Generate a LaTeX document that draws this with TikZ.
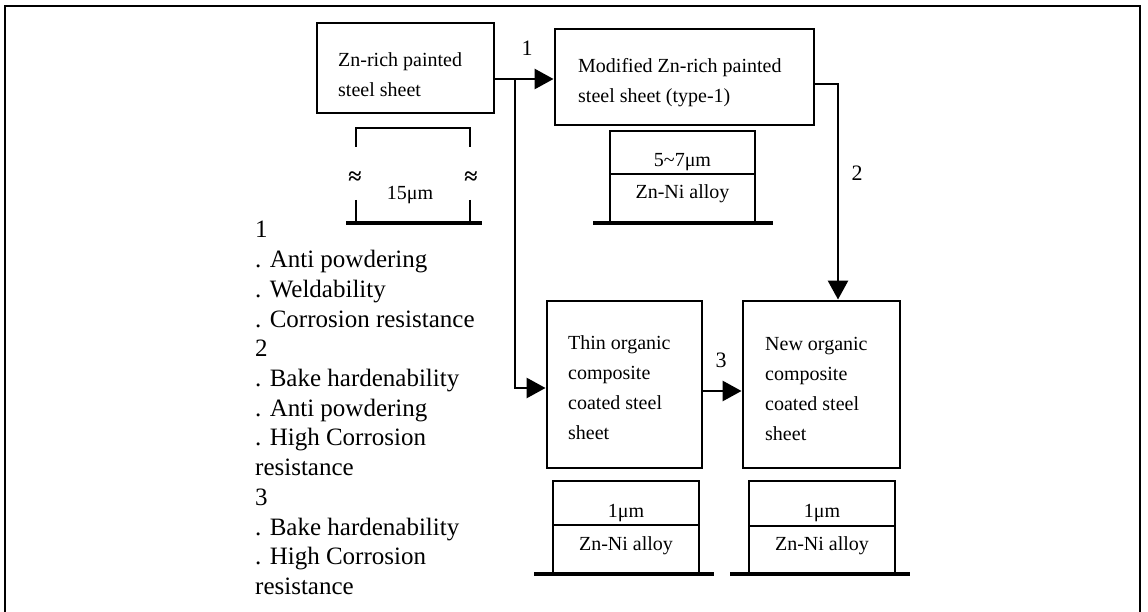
\documentclass[tikz,border=0pt]{standalone}
\usepackage{fontspec}
\setmainfont{Liberation Serif}
\usetikzlibrary{arrows.meta}
\begin{document}
\begin{tikzpicture}[x=1pt,y=-1pt,
  box/.style={draw, line width=2.9pt, inner sep=0pt},
  bt/.style={anchor=base west, inner sep=0pt, font=\fontsize{20}{24}\selectfont},
  lt/.style={anchor=base, inner sep=0pt, font=\fontsize{20}{24}\selectfont},
  lst/.style={anchor=base west, inner sep=0pt, font=\fontsize{25}{30}\selectfont},
  num/.style={anchor=base, inner sep=0pt, font=\fontsize{22}{24}\selectfont},
  apx/.style={inner sep=0pt, font=\fontsize{24}{26}\selectfont\bfseries},
  conn/.style={line width=2.8pt},
  tip/.style={-{Triangle[length=19pt,width=20pt]}},
  layer/.style={line width=2.6pt},
  thinl/.style={line width=2pt},
  ground/.style={line width=3.4pt},
  frame/.style={line width=2pt}
]
\useasboundingbox (0,0) rectangle (1148,612);
% outer frame
\draw[frame] (5,612) -- (5,6) -- (1140,6) -- (1140,612);

% main boxes
\node[box, minimum width=177pt, minimum height=90pt] (A) at (405.5,68) {};
\node[box, minimum width=259pt, minimum height=96pt] (B) at (684.5,77) {};
\node[box, minimum width=155pt, minimum height=167pt] (C) at (624.5,384.5) {};
\node[box, minimum width=157pt, minimum height=167pt] (D) at (821.5,384.5) {};

% box texts
\node[bt] (a1) at (338,67) {Zn-rich painted};
\node[bt] (a2) at (338,97) {steel sheet};
\node[bt] (b1) at (578,73) {Modified Zn-rich painted};
\node[bt] (b2) at (578,103) {steel sheet (type-1)};
\node[bt] (c1) at (568,349) {Thin organic};
\node[bt] (c2) at (568,379) {composite};
\node[bt] (c3) at (568,409) {coated steel};
\node[bt] (c4) at (568,439) {sheet};
\node[bt] (d1) at (765,350) {New organic};
\node[bt] (d2) at (765,380) {composite};
\node[bt] (d3) at (765,410) {coated steel};
\node[bt] (d4) at (765,440) {sheet};

% connectors
\coordinate (j) at (515,79);
\coordinate (k) at (515,388);
\coordinate (m) at (838,84);
\coordinate (n) at (720,391);
\draw[conn,tip] (A.east |- j) -- (B.west |- j);
\draw[conn,tip] (j) -- (k) -- (C.west |- k);
\draw[conn,tip] (B.east |- m) -- (m) -- (m |- D.north);
\draw[conn,tip] (C.east |- n) -- (D.west |- n);

% connector labels
\node[num] (n1) at (527,56) {1};
\node[num] (n2) at (857,181) {2};
\node[num] (n3) at (721,367) {3};

% 15 um bracket
\draw[layer] (356,147) -- (356,128) -- (470,128) -- (470,147);
\draw[layer] (356,200) -- (356,223);
\draw[layer] (470,200) -- (470,223);
\draw[ground] (346,223) -- (482,223);
\node[apx] (ap1) at (355,178) {≈};
\node[apx] (ap2) at (471,178) {≈};
\node[lt] (t15) at (410,200) {15μm};

% layer under B
\draw[layer] (610,223) -- (610,131) -- (755,131) -- (755,223);
\draw[thinl] (610,174) -- (755,174);
\draw[ground] (593,223) -- (773,223);
\node[lt] (lb1) at (682.5,167) {5\char"7E 7μm};
\node[lt] (lb2) at (682.5,199) {Zn-Ni alloy};

% layer under C
\draw[layer] (553,574) -- (553,481) -- (699,481) -- (699,574);
\draw[thinl] (553,525) -- (699,525);
\draw[ground] (534,574) -- (714,574);
\node[lt] (lc1) at (626,517) {1μm};
\node[lt] (lc2) at (626,550) {Zn-Ni alloy};

% layer under D
\draw[layer] (749,574) -- (749,481) -- (895,481) -- (895,574);
\draw[thinl] (749,526) -- (895,526);
\draw[ground] (730,574) -- (910,574);
\node[lt] (ld1) at (822,517) {1μm};
\node[lt] (ld2) at (822,550) {Zn-Ni alloy};

% property list
\foreach \t [count=\i] in {1, . Anti powdering, . Weldability, . Corrosion resistance, 2, . Bake hardenability, . Anti powdering, . High Corrosion, resistance, 3, . Bake hardenability, . High Corrosion, resistance}
  \node[lst] (l\i) at (255,{238+29.7*(\i-1)}) {\t};
\end{tikzpicture}
\end{document}
